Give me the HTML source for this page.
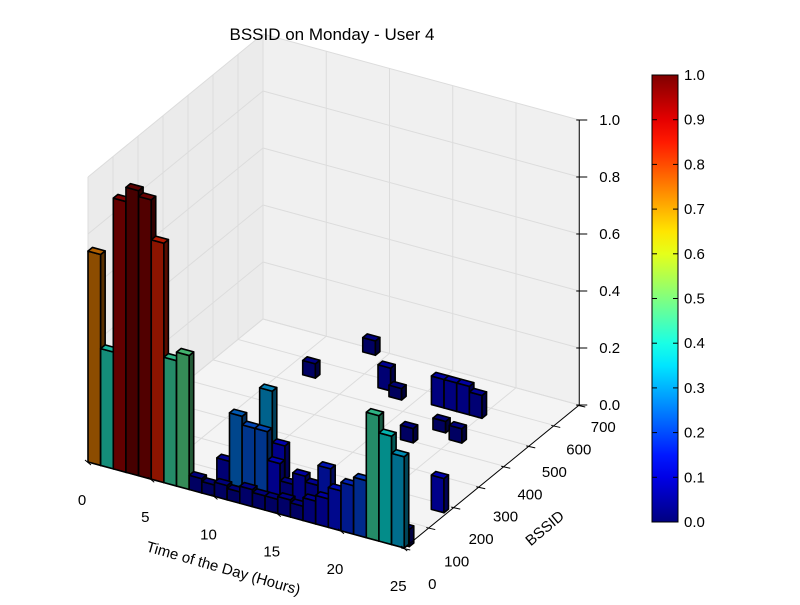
<!DOCTYPE html>
<html><head><meta charset="utf-8"><style>
body{margin:0;background:#fff;}
svg text{font-family:"Liberation Sans",sans-serif;}
</style></head><body>
<svg id="chart" width="800" height="600" viewBox="0 0 800 600" xmlns="http://www.w3.org/2000/svg">
<g id="panes"></g><g id="bars"></g><g id="axes"></g><g id="cbar"></g>
<text x="332" y="40" font-size="17" text-anchor="middle">BSSID on Monday - User 4</text>
</svg>
<script>
const xTicks=[0,5,10,15,20,25];
const yTicks=[0,100,200,300,400,500,600,700];
const zTicks=[0.0,0.2,0.4,0.6,0.8,1.0];
const cbTicks=[0.0,0.1,0.2,0.3,0.4,0.5,0.6,0.7,0.8,0.9,1.0];
// bars: hour, bssid, normalized value
const barHour=[0,1,2,3,4,5,6,7, 8,9,10,11,12,13,14,15,16,17,18,19,20,21,22,23,24, 9,10,11,12,13,14,15,16,17,18, 10,11,12, 6.4,8.3,11.8,13.1,16.2,17.2,18.2,19.2,18.1,19.8,16.9,23.8, 24.2];
const barBssid=[0,0,0,0,0,0,0,0, 0,0,0,0,0,0,0,0,0,0,0,0,0,0,0,0,0, 60,60,60,60,60,60,60,60,60,60, 130,130,130, 535,679,563,541,554,554,554,554,464,443,395,169, 10];
const barValue=[0.74,0.41,0.95,1.0,0.98,0.84,0.44,0.47, 0.05,0.04,0.05,0.04,0.06,0.05,0.05,0.06,0.05,0.08,0.1,0.14,0.17,0.2,0.44,0.38,0.32, 0.08,0.25,0.22,0.22,0.12,0.06,0.1,0.08,0.15,0.08, 0.1,0.3,0.12, 0.05,0.05,0.08,0.04,0.1,0.1,0.1,0.08,0.04,0.05,0.05,0.12, 0.06];
const NS="http://www.w3.org/2000/svg";
function P(x,y,z){return [88+x*12.65+y/700*175, 462+x*3.44-y/700*143-z*285];}
function pts(a){return a.map(p=>p.join(',')).join(' ');}
function jet(v){
  const r=Math.min(Math.max(Math.min(4*v-1.5,-4*v+4.5),0),1);
  const g=Math.min(Math.max(Math.min(4*v-0.5,-4*v+3.5),0),1);
  const b=Math.min(Math.max(Math.min(4*v+0.5,-4*v+2.5),0),1);
  return [r,g,b];}
function col(v,s){const c=jet(v);return 'rgb('+c.map(t=>Math.round(t*255*s)).join(',')+')';}
function poly(parent,p,fill,stroke,sw){const e=document.createElementNS(NS,'polygon');e.setAttribute('points',pts(p));e.setAttribute('fill',fill);e.setAttribute('stroke',stroke);e.setAttribute('stroke-width',sw);e.setAttribute('stroke-linejoin','round');parent.appendChild(e);return e;}
function line(parent,a,b,stroke,sw){const e=document.createElementNS(NS,'line');e.setAttribute('x1',a[0]);e.setAttribute('y1',a[1]);e.setAttribute('x2',b[0]);e.setAttribute('y2',b[1]);e.setAttribute('stroke',stroke);e.setAttribute('stroke-width',sw);parent.appendChild(e);return e;}
function text(parent,x,y,s,size,anchor){const e=document.createElementNS(NS,'text');e.setAttribute('x',x);e.setAttribute('y',y);e.setAttribute('font-size',size);e.setAttribute('text-anchor',anchor||'middle');e.textContent=s;parent.appendChild(e);return e;}
const pg=document.getElementById('panes');
let e;
e=poly(pg,[P(0,0,0),P(0,700,0),P(0,700,1),P(0,0,1)],'#ebebeb','none',0);


e=poly(pg,[P(0,700,0),P(25,700,0),P(25,700,1),P(0,700,1)],'#f0f0f0','none',0);


e=poly(pg,[P(0,0,0),P(25,0,0),P(25,700,0),P(0,700,0)],'#f4f4f4','none',0);


xTicks.forEach(t=>{line(pg,P(t,0,0),P(t,700,0),'#dcdcdc',1);line(pg,P(t,700,0),P(t,700,1),'#dcdcdc',1);});
yTicks.forEach(t=>{line(pg,P(0,t,0),P(25,t,0),'#dcdcdc',1);line(pg,P(0,t,0),P(0,t,1),'#dcdcdc',1);});
zTicks.forEach(t=>{line(pg,P(0,0,t),P(0,700,t),'#dcdcdc',1);line(pg,P(0,700,t),P(25,700,t),'#dcdcdc',1);});
const bg=document.getElementById('bars');
const dx=1.0,dy=18;
const order=barHour.map((h,i)=>i).sort((a,b)=>P(barHour[a],barBssid[a],0)[1]-P(barHour[b],barBssid[b],0)[1]);
order.forEach(i=>{
  const x=barHour[i],y=barBssid[i],z=barValue[i];
  const g=document.createElementNS(NS,'g');
  
  
  poly(g,[P(x,y,0),P(x+dx,y,0),P(x+dx,y,z),P(x,y,z)],col(z,0.55),'#000',1.6);
  poly(g,[P(x+dx,y,0),P(x+dx,y+dy,0),P(x+dx,y+dy,z),P(x+dx,y,z)],col(z,0.35),'#000',1.6);
  poly(g,[P(x,y,z),P(x+dx,y,z),P(x+dx,y+dy,z),P(x,y+dy,z)],col(z,0.7),'#000',1.6);
  bg.appendChild(g);
});
const ag=document.getElementById('axes');
line(ag,P(0,0,0),P(25,0,0),'#000',1);
line(ag,P(25,0,0),P(25,700,0),'#000',1);
line(ag,P(25,700,0),P(25,700,1),'#000',1);
xTicks.forEach(t=>{const p=P(t,0,0);line(ag,[p[0]-3,p[1]-2],[p[0]+3,p[1]+3],'#000',1);
  e=text(ag,p[0]-6,p[1]+43,String(t),15);
  
  });
yTicks.forEach(t=>{const p=P(25,t,0);line(ag,[p[0]-3,p[1]],[p[0]+6,p[1]+2],'#000',1);
  e=text(ag,p[0]+28-t/700*4,p[1]+41-t/700*14,String(t),15);
  
  });
zTicks.forEach(t=>{const p=P(25,700,t);line(ag,[p[0]-3,p[1]],[p[0]+8,p[1]],'#000',1);
  e=text(ag,p[0]+20,p[1]+5,t.toFixed(1),15,'start');
  
  });
e=text(ag,222,573,'Time of the Day (Hours)',15);
e.setAttribute('transform','rotate(16 222 573)');


e=text(ag,548,532,'BSSID',15);
e.setAttribute('transform','rotate(-40 548 532)');


const cg=document.getElementById('cbar');
const cx=652,cy0=522,cy1=75,cw=26;
const defs=document.createElementNS(NS,'defs');
const lg=document.createElementNS(NS,'linearGradient');lg.setAttribute('id','jetg');lg.setAttribute('x1','0');lg.setAttribute('y1','1');lg.setAttribute('x2','0');lg.setAttribute('y2','0');
for(let k=0;k<=20;k++){const s=document.createElementNS(NS,'stop');s.setAttribute('offset',k/20);s.setAttribute('stop-color',col(k/20,1));lg.appendChild(s);}
defs.appendChild(lg);cg.appendChild(defs);
const r=document.createElementNS(NS,'rect');r.setAttribute('x',cx);r.setAttribute('y',cy1);r.setAttribute('width',cw);r.setAttribute('height',cy0-cy1);r.setAttribute('fill','url(#jetg)');r.setAttribute('stroke','#000');r.setAttribute('stroke-width',1);


cg.appendChild(r);
cbTicks.forEach(t=>{const y=cy0-t*(cy0-cy1);line(cg,[cx+cw-5,y],[cx+cw,y],'#000',1);line(cg,[cx,y],[cx+5,y],'#000',1);
  e=text(cg,cx+cw+6,y+5,t.toFixed(1),15,'start');
  
  });
</script>
</body></html>
